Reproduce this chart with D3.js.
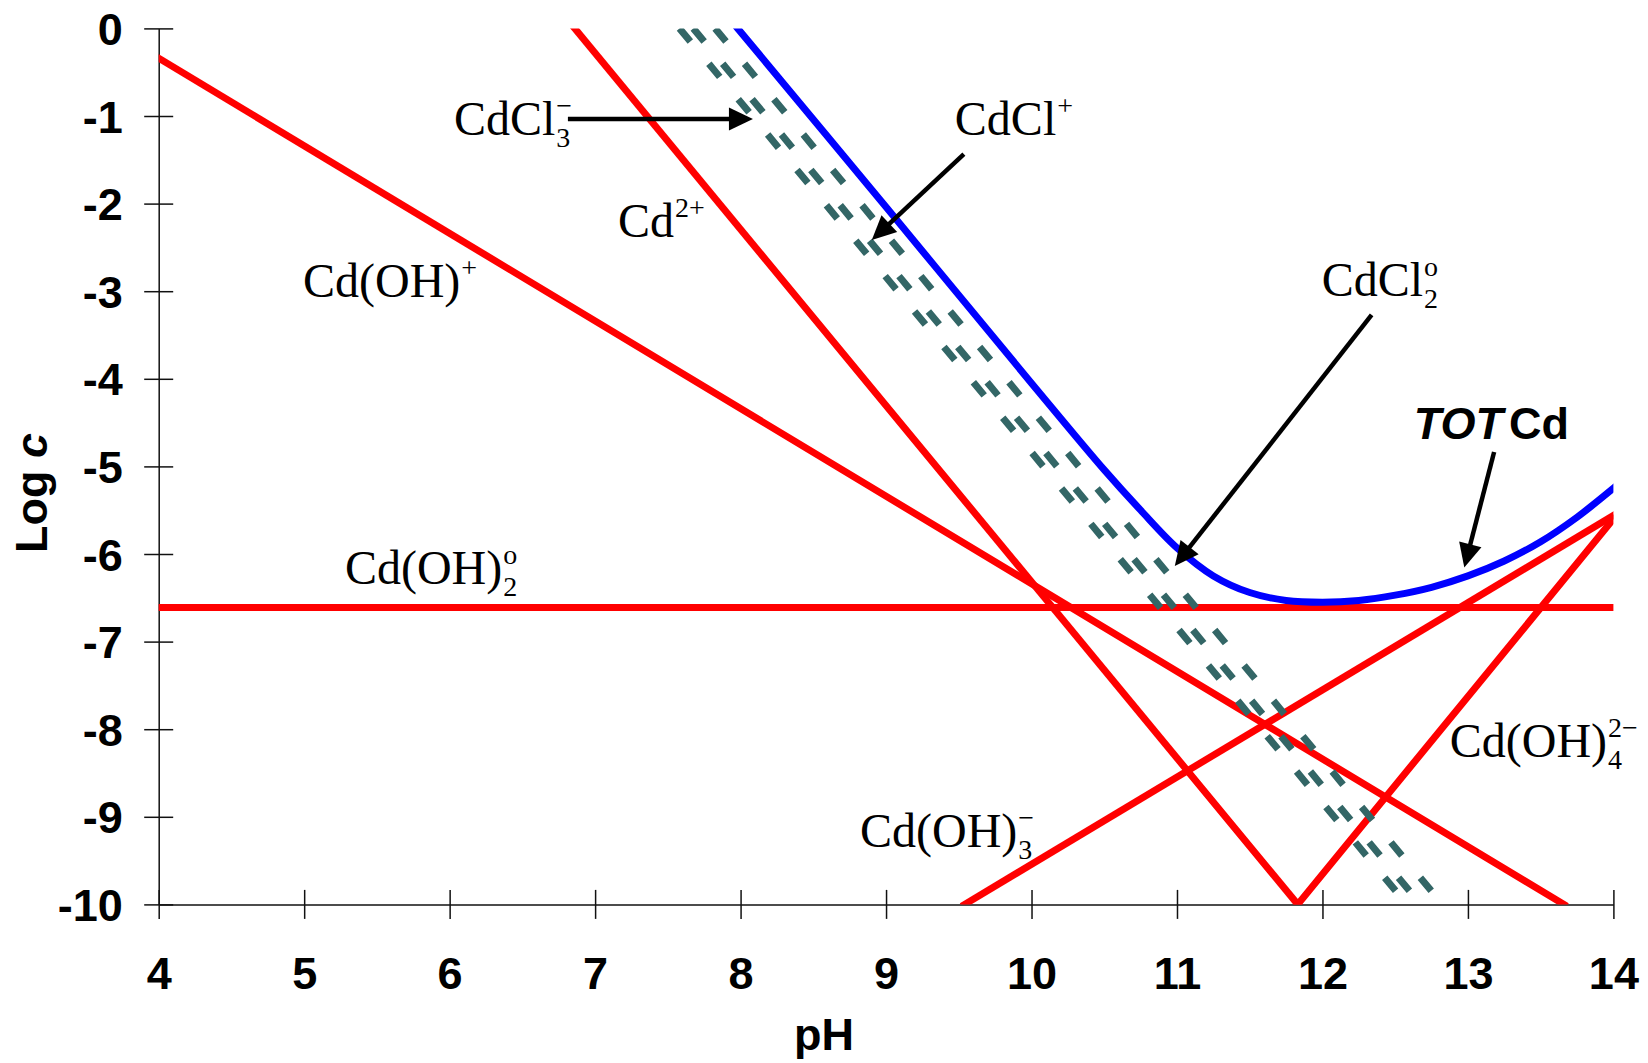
<!DOCTYPE html>
<html lang="en">
<head>
<meta charset="UTF-8">
<title>Cd speciation vs pH</title>
<script src="https://d3js.org/d3.v7.min.js"></script>
<style>
  body { margin: 0; background: #fff; }
  .tick text { font-family: "Liberation Sans", Arial, sans-serif; font-weight: bold; font-size: 45px; fill: #000; }
  .axis-title { font-family: "Liberation Sans", Arial, sans-serif; font-weight: bold; font-size: 45px; fill: #000; }
  .lbl { font-family: "Liberation Serif", "Times New Roman", serif; font-size: 48px; fill: #000; }
  .lbl.small { font-size: 28px; }
</style>
</head>
<body>
<div id="chart"></div>
<script>
// axis ticks
const xTicks = [4, 5, 6, 7, 8, 9, 10, 11, 12, 13, 14];
const yTicks = [0, -1, -2, -3, -4, -5, -6, -7, -8, -9, -10];

// species, [pH, log c]
const cdOH   = [[4, -0.34], [13.66, -10]];
const cd2    = [[6.86, 0], [11.83, -10]];
const cdOH2  = [[4, -6.61], [14, -6.61]];
const cdOH3  = [[9.54, -10], [14, -5.56]];
const cdOH4  = [[11.83, -10], [14, -5.6]];
const cdCl3  = [[7.58, 0], [12.58, -10]];
const cdCl   = [[7.675, 0], [12.675, -10]];
const cdCl2  = [[7.825, 0], [12.825, -10]];
const totCd  = [[7.98, 0], [9, -2.04], [10, -4.05], [10.5, -5.04], [10.75, -5.5], [11, -5.93],
                [11.25, -6.25], [11.5, -6.44], [11.75, -6.53], [12, -6.55], [12.25, -6.53],
                [12.5, -6.47], [12.75, -6.38], [13, -6.25], [13.25, -6.08], [13.5, -5.86],
                [13.75, -5.58], [14, -5.25]];

const margin = {top: 28.4, left: 158.7},
      width = 1454.7,
      height = 876;

const svg = d3.select("#chart")
  .append("svg")
    .attr("width", 1648)
    .attr("height", 1063)
  .append("g")
    .attr("transform", `translate(${margin.left}, ${margin.top})`);

const x = d3.scaleLinear().domain([4, 14]).range([0, width]);
const y = d3.scaleLinear().domain([0, -10]).range([0, height]);

// axes, ticks crossing the axis line
const gx = svg.append("g")
  .attr("transform", `translate(0, ${height})`)
  .call(d3.axisBottom(x).tickValues(xTicks).tickSizeOuter(0).tickFormat(d => String(d)));
gx.selectAll(".tick line").attr("y1", -14.5).attr("y2", 14.5);
gx.selectAll(".tick text").attr("y", 84.5).attr("dy", 0);

const gy = svg.append("g")
  .call(d3.axisLeft(y).tickValues(yTicks).tickSizeOuter(0).tickFormat(d => String(d)));
gy.selectAll(".tick line").attr("x1", -14.5).attr("x2", 14.5);
gy.selectAll(".tick text").attr("x", -36).attr("y", 16).attr("dy", 0);

svg.selectAll(".domain, .tick line").attr("stroke", "#111").attr("stroke-width", 1.5);

svg.append("text")
  .attr("class", "axis-title")
  .attr("x", 824 - margin.left)
  .attr("y", 1050 - margin.top)
  .attr("text-anchor", "middle")
  .text("pH");

const yt = svg.append("text")
  .attr("class", "axis-title")
  .attr("transform", `translate(${47 - margin.left}, ${493 - margin.top}) rotate(-90)`)
  .attr("text-anchor", "middle");
yt.append("tspan").text("Log ");
yt.append("tspan").style("font-style", "italic").text("c");

// plot lines
svg.append("clipPath").attr("id", "plot")
  .append("rect").attr("width", width).attr("height", height);

const plot = svg.append("g").attr("clip-path", "url(#plot)");
const line = d3.line().x(d => x(d[0])).y(d => y(d[1]));

[cdOH, cd2, cdOH2, cdOH3, cdOH4].forEach(s => {
  plot.append("path")
    .datum(s)
    .attr("d", line)
    .attr("fill", "none")
    .attr("stroke", "#ff0000")
    .attr("stroke-width", 7)
    .attr("stroke-linecap", "square");
});

[cdCl3, cdCl, cdCl2].forEach(s => {
  plot.append("path")
    .datum(s)
    .attr("d", line)
    .attr("fill", "none")
    .attr("stroke", "#336666")
    .attr("stroke-width", 7)
    .attr("stroke-dasharray", "17 29");
});

plot.append("path")
  .datum(totCd)
  .attr("d", line.curve(d3.curveCatmullRom.alpha(0.5)))
  .attr("fill", "none")
  .attr("stroke", "#0000ff")
  .attr("stroke-width", 7)
  .attr("stroke-linecap", "square");

// arrows
function arrow(from, to) {
  const x1 = x(from[0]), y1 = y(from[1]), x2 = x(to[0]), y2 = y(to[1]);
  const len = Math.hypot(x2 - x1, y2 - y1);
  const ux = (x2 - x1) / len, uy = (y2 - y1) / len;
  const hl = 24, hw = 11.5;
  const bx = x2 - ux * hl, by = y2 - uy * hl;
  svg.append("line")
    .attr("x1", x1).attr("y1", y1)
    .attr("x2", bx + ux * 2).attr("y2", by + uy * 2)
    .attr("stroke", "#000").attr("stroke-width", 4.5);
  svg.append("path")
    .attr("d", `M${x2},${y2}L${bx - uy * hw},${by + ux * hw}L${bx + uy * hw},${by - ux * hw}Z`)
    .attr("fill", "#000");
}
arrow([6.813, -1.034], [8.085, -1.034]);
arrow([9.535, -1.436], [8.902, -2.416]);
arrow([12.338, -3.271], [10.985, -6.137]);
arrow([13.18, -4.836], [12.975, -6.154]);

// species labels: main text, superscript, subscript (stacked)
function chem(at, main, sup, sub) {
  const px = x(at[0]), py = y(at[1]);
  const t = svg.append("text").attr("class", "lbl").attr("x", px).attr("y", py).text(main);
  const w = t.node().getComputedTextLength();
  if (sup) svg.append("text").attr("class", "lbl small").attr("x", px + w + 1).attr("y", py - 20).text(sup);
  if (sub) svg.append("text").attr("class", "lbl small").attr("x", px + w + 1).attr("y", py + 12).text(sub);
}
chem([6.03, -1.217], "CdCl", "\u2212", "3");
chem([7.157, -2.381], "Cd", "2+", null);
chem([9.473, -1.217], "CdCl", "+", null);
chem([4.992, -3.066], "Cd(OH)", "+", null);
chem([11.995, -3.055], "CdCl", "o", "2");
chem([5.28, -6.342], "Cd(OH)", "o", "2");
chem([12.875, -8.317], "Cd(OH)", "2\u2212", "4");
chem([8.821, -9.345], "Cd(OH)", "\u2212", "3");

const tot = svg.append("text")
  .attr("class", "axis-title")
  .attr("x", x(12.628))
  .attr("y", y(-4.687));
tot.append("tspan").style("font-style", "italic").text("TOT");
tot.append("tspan").attr("dx", 6).text("Cd");
</script>
</body>
</html>
